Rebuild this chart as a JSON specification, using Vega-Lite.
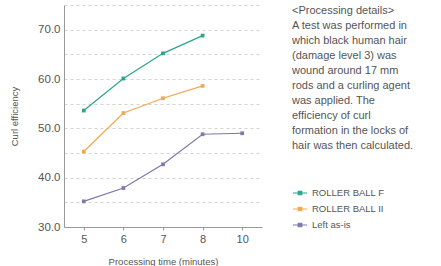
{
  "$schema": "https://vega.github.io/schema/vega-lite/v6.json",
  "width": 198,
  "height": 222,
  "autosize": "none",
  "padding": {"left": 64, "top": 5, "right": 179, "bottom": 39},
  "background": "white",
  "config": {
    "font": "Liberation Sans",
    "view": {"stroke": null},
    "axis": {"labelColor": "#555", "titleColor": "#555", "domainColor": "#999", "tickColor": "#999", "titleFontWeight": "normal"}
  },
  "data": {
    "values": [
      {"time": "5", "series": "ROLLER BALL F", "value": 53.6},
      {"time": "6", "series": "ROLLER BALL F", "value": 60.1},
      {"time": "7", "series": "ROLLER BALL F", "value": 65.2},
      {"time": "8", "series": "ROLLER BALL F", "value": 68.8},
      {"time": "5", "series": "ROLLER BALL II", "value": 45.3},
      {"time": "6", "series": "ROLLER BALL II", "value": 53.1},
      {"time": "7", "series": "ROLLER BALL II", "value": 56.1},
      {"time": "8", "series": "ROLLER BALL II", "value": 58.6},
      {"time": "5", "series": "Left as-is", "value": 35.2},
      {"time": "6", "series": "Left as-is", "value": 37.9},
      {"time": "7", "series": "Left as-is", "value": 42.7},
      {"time": "8", "series": "Left as-is", "value": 48.8},
      {"time": "10", "series": "Left as-is", "value": 49.0}
    ]
  },
  "mark": {"type": "line", "strokeWidth": 1.2, "point": {"filled": true, "size": 14, "shape": "square"}},
  "encoding": {
    "x": {
      "field": "time", "type": "ordinal", "sort": ["5", "6", "7", "8", "10"],
      "scale": {"type": "point", "padding": 0.5},
      "axis": {"title": "Processing time (minutes)", "labelAngle": 0, "labelFontSize": 11, "titleFontSize": 9.5, "tickSize": 3, "labelPadding": 3, "titlePadding": 12, "grid": false}
    },
    "y": {
      "field": "value", "type": "quantitative",
      "scale": {"domain": [30, 75], "nice": false, "zero": false},
      "axis": {
        "title": "Curl efficiency", "values": [30, 35, 40, 45, 50, 55, 60, 65, 70, 75],
        "labelExpr": "datum.value % 10 == 0 ? format(datum.value, '.1f') : ''",
        "labelFontSize": 11.5, "titleFontSize": 9.5, "ticks": false, "labelPadding": 4, "titlePadding": 18,
        "grid": true, "gridDash": [3, 3], "gridColor": "#c8c8c8", "gridWidth": 0.8
      }
    },
    "color": {
      "field": "series", "type": "nominal",
      "sort": ["ROLLER BALL F", "ROLLER BALL II", "Left as-is"],
      "scale": {"domain": ["ROLLER BALL F", "ROLLER BALL II", "Left as-is"], "range": ["#2aa58a", "#f2a94e", "#7d7aaa"]},
      "legend": {
        "title": ["<Processing details>", "A test was performed in", "which black human hair", "(damage level 3) was", "wound around 17 mm", "rods and a curling agent", "was applied. The", "efficiency of curl", "formation in the locks of", "hair was then calculated."],
        "titleFontSize": 11, "titleFontWeight": "normal", "titleColor": "#555", "titleLineHeight": 15, "titlePadding": 34,
        "labelFontSize": 9.5, "labelColor": "#555", "offset": 30, "rowPadding": 3,
        "symbolType": "M-1,0H1M-0.25,-0.25H0.25V0.25H-0.25Z", "symbolSize": 200, "symbolStrokeWidth": 1.2
      }
    }
  }
}
